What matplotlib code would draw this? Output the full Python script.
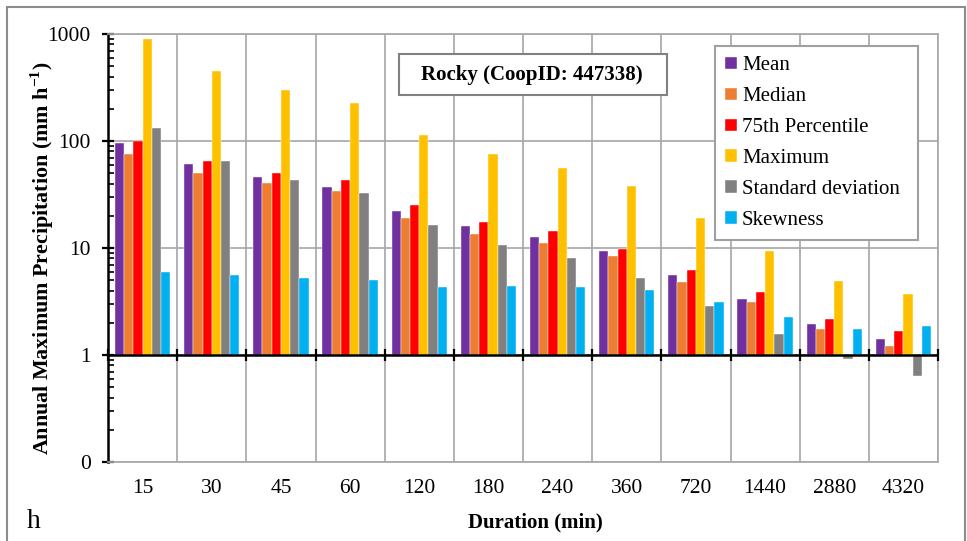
import numpy as np
import matplotlib
matplotlib.use("Agg")
import matplotlib.pyplot as plt
from matplotlib.patches import Rectangle

plt.rcParams['font.family'] = ['Liberation Serif', 'DejaVu Serif']
plt.rcParams['mathtext.fontset'] = 'custom'
plt.rcParams['mathtext.rm'] = 'Liberation Serif'
plt.rcParams['mathtext.bf'] = 'Liberation Serif:bold'

durations = ["15", "30", "45", "60", "120", "180", "240", "360", "720", "1440", "2880", "4320"]
mean = [96, 60.6, 46.1, 37.2, 22.3, 16.0, 12.7, 9.4, 5.6, 3.34, 1.94, 1.41]
median = [75.6, 50.2, 40.5, 33.9, 18.9, 13.5, 11.1, 8.4, 4.8, 3.11, 1.74, 1.21]
pct75 = [100, 65, 50.2, 42.9, 25.2, 17.4, 14.4, 9.7, 6.2, 3.85, 2.15, 1.69]
maximum = [898, 451, 300, 225, 113, 75.2, 56.3, 38, 18.9, 9.44, 4.92, 3.74]
std = [132, 64.6, 43.2, 32.4, 16.3, 10.7, 8.0, 5.28, 2.87, 1.58, 0.91, 0.63]
skew = [5.97, 5.6, 5.2, 5.02, 4.35, 4.4, 4.29, 4.05, 3.15, 2.27, 1.74, 1.87]

series = [mean, median, pct75, maximum, std, skew]
names = ["Mean", "Median", "75th Percentile", "Maximum", "Standard deviation", "Skewness"]
colors = ["#7030A0", "#ED7D31", "#FF0000", "#FFC000", "#808080", "#00B0F0"]
grid_c = "#A6A6A6"

W, H = 967, 541
fig = plt.figure(figsize=(W / 100, H / 100), dpi=100)
ax = fig.add_axes([108 / W, 1 - 462 / H, 830 / W, 428 / H])

x = np.arange(len(durations))
bw = 0.8 / 6
for j, (vals, name, c) in enumerate(zip(series, names, colors)):
    vals = np.array(vals)
    ax.bar(x + (j - 2.5) * bw, vals - 1, bottom=1, width=bw, color=c,
           edgecolor='white', linewidth=0.3, label=name, zorder=3)

ax.set_yscale('log')
ax.set_ylim(0.1, 1000)
ax.set_xlim(-0.5, len(durations) - 0.5)

ax.set_yticks([0.1, 1, 10, 100, 1000])
ax.set_yticklabels(['0', '1', '10', '100', '1000'])
ax.yaxis.set_minor_locator(matplotlib.ticker.LogLocator(base=10, subs=np.arange(2, 10)))
ax.yaxis.set_minor_formatter(matplotlib.ticker.NullFormatter())
ax.tick_params(axis='y', which='major', direction='inout', length=9, width=1.6,
               labelsize=15.5, pad=8, color='black')
ax.tick_params(axis='y', which='minor', direction='in', length=4, width=1.2, color='black')

bounds = np.arange(len(durations) + 1) - 0.5
ax.set_xticks(x)
ax.set_xticklabels(durations)
ax.set_xticks(bounds, minor=True)
ax.tick_params(axis='x', which='both', length=0, labelsize=15.5, pad=12)

ax.grid(True, which='major', axis='y', color=grid_c, linewidth=1.2, zorder=0)
ax.grid(True, which='minor', axis='x', color=grid_c, linewidth=1.2, zorder=0)
ax.set_axisbelow(True)

for s in ['top', 'right', 'bottom']:
    ax.spines[s].set_color(grid_c)
    ax.spines[s].set_linewidth(1.2)
ax.spines['left'].set_color('black')
ax.spines['left'].set_linewidth(1.8)

# horizontal axis crossing at 1 with boundary ticks
ax.axhline(1, color='black', linewidth=1.8, zorder=4)
ax.plot(bounds, np.ones_like(bounds), linestyle='none', marker='|', markersize=8,
        markeredgewidth=1.6, color='black', zorder=5, clip_on=False)

ax.set_ylabel("Annual Maximum Precipitation (mm h$^{\\mathbf{-1}}$)", fontsize=15.8,
              fontweight='bold')
ax.yaxis.set_label_coords(-52 / 830, 0.475)
fig.text(535 / W, 1 - 522 / H, "Duration (min)", fontsize=15, fontweight='bold',
         ha='center', va='center')

# title box
fig.patches.append(Rectangle((399 / W, 1 - 95 / H), 268 / W, 41 / H, transform=fig.transFigure,
                             facecolor='white', edgecolor='#808080', linewidth=1.5, zorder=6))
fig.text(532 / W, 1 - 75 / H, "Rocky (CoopID: 447338)", fontsize=15, fontweight='bold',
         ha='center', va='center', zorder=7)

leg = ax.legend(loc='upper left', bbox_to_anchor=(715 / W, 1 - 234 / H, 203 / W, 188 / H),
                bbox_transform=fig.transFigure, mode='expand', fontsize=15, frameon=True,
                fancybox=False, edgecolor='#A0A0A0', framealpha=1, handlelength=0.55,
                handleheight=0.55, handletextpad=0.25, labelspacing=0.57, borderpad=0.5,
                borderaxespad=0)
leg.get_frame().set_linewidth(1.5)
leg.set_zorder(8)

fig.text(27 / W, 1 - 528 / H, "h", fontsize=20, va='baseline', ha='left')

fig.patches.append(Rectangle((7 / W, -0.05), 958 / W, 1.05 - 7 / H, transform=fig.transFigure,
                             fill=False, edgecolor='#8C8C8C', linewidth=1.5))

fig.savefig("out.png", dpi=100)
